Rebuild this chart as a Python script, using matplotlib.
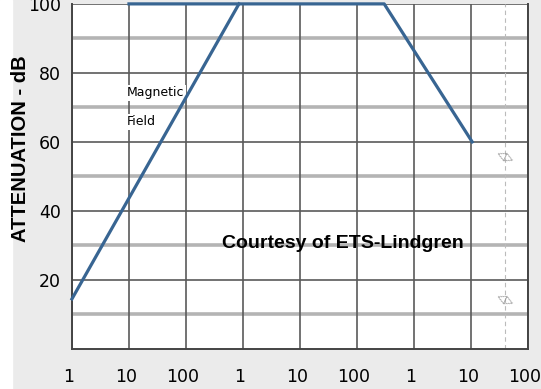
import matplotlib.pyplot as plt
import matplotlib.transforms as mtransforms
from matplotlib.patches import Rectangle

# Frequências (Hz) e atenuação (dB)
mag_freq = [1e3, 8.5e5]
mag_atten = [14.5, 100]
top_freq = [1e4, 3.0e8, 1.05e10]
top_atten = [100, 100, 60]

tick_freqs = [1e3, 1e4, 1e5, 1e6, 1e7, 1e8, 1e9, 1e10, 1e11]
tick_labels = ['1', '10', '100', '1', '10', '100', '1', '10', '100']
y_ticks = [20, 40, 60, 80, 100]
y_minor = [10, 30, 50, 70, 90]
limit_freq = 4e10
symbol_atten = [55.5, 14.2]

fig = plt.figure(figsize=(5.41, 3.89), dpi=100, facecolor='#ebebeb')
fig.patches.append(Rectangle((0, 0), 0.022, 1, transform=fig.transFigure,
                             color='white', zorder=-5))
ax = fig.add_axes([0.133, 0.103, 0.843, 0.887])
ax.set_facecolor('white')
ax.set_xscale('log')
ax.set_xlim(tick_freqs[0], tick_freqs[-1])
ax.set_ylim(0, 100)

# grade
for v in y_minor:
    ax.axhline(v, color='#b4b4b4', lw=2.6, zorder=1)
for v in y_ticks:
    ax.axhline(v, color='#5a5a5a', lw=1.2, zorder=1)
for f in tick_freqs:
    ax.axvline(f, color='#5a5a5a', lw=1.2, zorder=1)
ax.axvline(limit_freq, color='#bbbbbb', lw=0.8, ls=(0, (4, 3)), zorder=1)

ax.plot(mag_freq, mag_atten, color='#386592', lw=2.3, zorder=3, clip_on=False)
ax.plot(top_freq, top_atten, color='#386592', lw=2.3, zorder=3, clip_on=False)

for a in symbol_atten:
    ax.text(limit_freq, a, '\u25c1\u25b7', color='#8a8a8a', fontsize=8.5,
            rotation=-25, ha='center', va='center', zorder=2)

box = dict(facecolor='white', edgecolor='none', pad=1.0)
ax.text(9.2e3, 74.2, 'Magnetic', fontsize=9, ha='left', va='center',
        zorder=2, bbox=box)
ax.text(9.2e3, 65.8, 'Field', fontsize=9, ha='left', va='center',
        zorder=2, bbox=box)
ax.text(5.6e7, 30.5, 'Courtesy of ETS-Lindgren', family='Liberation Sans',
        fontweight='bold', fontsize=14, ha='center', va='center', zorder=4)

ax.set_xticks(tick_freqs)
ax.set_xticklabels(tick_labels, fontsize=12.5)
ax.minorticks_off()
ax.set_yticks(y_ticks)
ax.set_yticklabels([str(v) for v in y_ticks], fontsize=12.5)
ax.tick_params(axis='x', length=0, pad=14)
ax.tick_params(axis='y', length=0, pad=8)
shift = mtransforms.ScaledTranslation(-3 / 100, 0, fig.dpi_scale_trans)
for lab in ax.get_xticklabels():
    lab.set_transform(lab.get_transform() + shift)

ax.set_ylabel('ATTENUATION - dB', family='Liberation Sans', fontweight='bold',
              fontsize=14.5)
ax.yaxis.set_label_coords(-0.092, 0.58)

for s in ax.spines.values():
    s.set_color('#444444')
    s.set_linewidth(1.4)
ax.spines['top'].set_visible(False)

fig.savefig('out.png', dpi=100, facecolor=fig.get_facecolor())
